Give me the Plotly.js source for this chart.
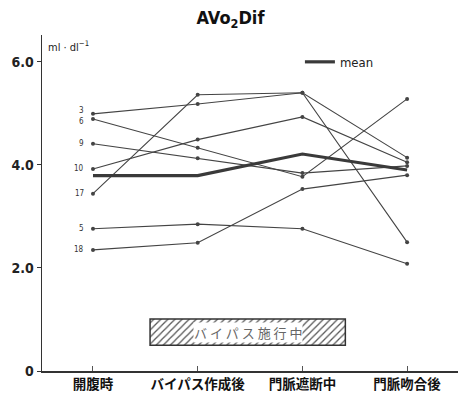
<!DOCTYPE html>
<html>
<head>
<meta charset="utf-8">
<script src="https://cdn.plot.ly/plotly-3.0.1.min.js"></script>
<style>
  html, body { margin: 0; padding: 0; background: #fff; }
  #chart { width: 461px; height: 401px; }
</style>
</head>
<body>
<div id="chart"></div>
<script>
// Measurement stages (x axis)
const stages = ['開腹時', 'バイパス作成後', '門脈遮断中', '門脈吻合後'];

// AVO2 difference per case (ml/dl), one array per patient number
const case3  = [4.99, 5.18, 5.40, 4.14];
const case6  = [4.89, 4.33, 3.77, 5.28];
const case9  = [4.41, 4.13, 3.84, 3.98];
const case10 = [3.92, 4.49, 4.93, 4.05];
const case17 = [3.44, 5.36, 5.40, 2.50];
const case5  = [2.76, 2.85, 2.76, 2.08];
const case18 = [2.35, 2.49, 3.53, 3.80];
const meanValues = [3.79, 3.79, 4.21, 3.90];

const caseLabels = ['3', '6', '9', '10', '17', '5', '18'];
const caseSeries = [case3, case6, case9, case10, case17, case5, case18];
// small vertical nudges so the close labels (3 and 6) stay readable
const labelShift = [3, -2, 0, 0, 0, 0, 0];

// Bypass period band
const bypassLabel = 'バ イ パ ス 施 行 中';
const bypassStart = 0.545, bypassEnd = 2.41;
const bypassLow = 0.5, bypassHigh = 1.01;

const yTickVals = [0, 2, 4, 6];
const yTickText = ['0', '2.0', '4.0', '6.0'];

const xIdx = stages.map((_, i) => i);
const condensed = '"DejaVu Sans Condensed", "Liberation Sans Narrow", "DejaVu Sans", sans-serif';
const jp = '"Noto Sans CJK JP", "Noto Sans", sans-serif';
const lineColor = '#444';

const traces = [];

// Hatched bypass band drawn as a floating bar
traces.push({
  type: 'bar',
  x: [(bypassStart + bypassEnd) / 2],
  y: [bypassHigh - bypassLow],
  base: [bypassLow],
  width: [bypassEnd - bypassStart],
  marker: {
    color: '#fff',
    line: { color: '#333', width: 1.5 },
    pattern: { shape: '/', fgcolor: '#555', bgcolor: '#fff', size: 5, solidity: 0.25 }
  },
  showlegend: false,
  hoverinfo: 'skip'
});

caseSeries.forEach((vals, i) => {
  traces.push({
    type: 'scatter',
    mode: 'lines+markers',
    x: xIdx,
    y: vals,
    name: caseLabels[i],
    line: { color: lineColor, width: 1.1 },
    marker: { color: lineColor, size: 4 },
    showlegend: false
  });
});

traces.push({
  type: 'scatter',
  mode: 'lines',
  x: xIdx,
  y: meanValues,
  name: 'mean',
  line: { color: '#3a3a3a', width: 3.2 },
  showlegend: true
});

// Case number labels to the left of each starting point
const annotations = caseSeries.map((vals, i) => ({
  x: 0, y: vals[0], xref: 'x', yref: 'y',
  text: caseLabels[i], showarrow: false,
  xanchor: 'right', yanchor: 'middle', xshift: -7, yshift: labelShift[i],
  font: { family: condensed, size: 8, color: '#333' }
}));

annotations.push({
  x: (bypassStart + bypassEnd) / 2, y: (bypassLow + bypassHigh) / 2,
  xref: 'x', yref: 'y', text: bypassLabel, showarrow: false,
  font: { family: jp, size: 13, color: '#666' },
  bgcolor: '#fff', borderpad: 0
});

annotations.push({
  x: 0, y: 1, xref: 'paper', yref: 'paper',
  text: 'ml · dl<sup>−1</sup>', showarrow: false,
  xanchor: 'left', yanchor: 'top', xshift: 4, yshift: -2,
  font: { family: condensed, size: 11, color: '#222' }
});

const layout = {
  width: 461, height: 401,
  margin: { l: 42, r: 3, t: 35, b: 30 },
  paper_bgcolor: '#fff', plot_bgcolor: '#fff',
  title: {
    text: '<b>AVo<sub>2</sub>Dif</b>',
    x: 0.5, xanchor: 'center', y: 0.955, yanchor: 'middle',
    font: { family: condensed, size: 18, color: '#111' }
  },
  xaxis: {
    range: [-0.487, 3.486],
    tickvals: xIdx, ticktext: stages.map(s => '<b>' + s + '</b>'),
    ticks: 'inside', ticklen: 5, tickcolor: '#555',
    showline: true, linecolor: '#333', linewidth: 2,
    showgrid: false, zeroline: false,
    tickfont: { family: jp, size: 13.5, color: '#111' },
    fixedrange: true
  },
  yaxis: {
    range: [0, 6.52],
    tickvals: yTickVals, ticktext: yTickText.map(s => '<b>' + s + '</b>'),
    ticks: 'outside', ticklen: 4, tickcolor: '#333',
    showline: true, linecolor: '#333', linewidth: 1.5,
    showgrid: false, zeroline: false,
    tickfont: { family: condensed, size: 14, color: '#222' },
    fixedrange: true
  },
  legend: {
    x: 0.62, y: 0.92, xanchor: 'left', yanchor: 'middle',
    bgcolor: 'rgba(0,0,0,0)',
    font: { family: condensed, size: 13, color: '#222' },
    itemwidth: 30
  },
  annotations: annotations,
  bargap: 0
};

Plotly.newPlot('chart', traces, layout, { displayModeBar: false, staticPlot: true });
</script>
</body>
</html>
